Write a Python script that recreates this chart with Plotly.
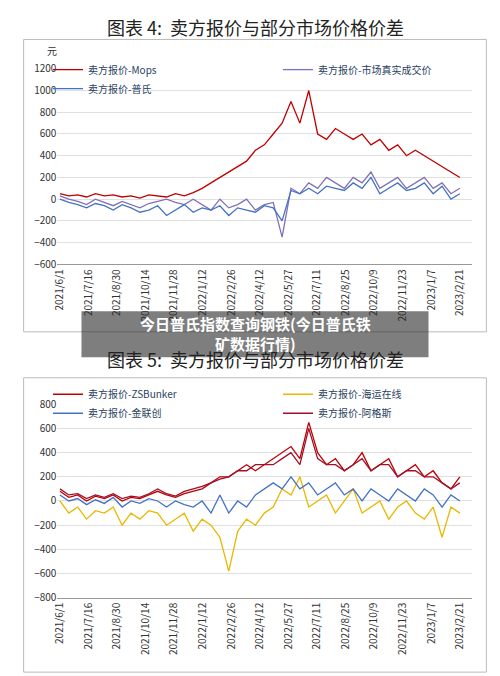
import pandas as pd
import plotly.graph_objects as go

dates = pd.date_range("2021-06-01", periods=46, freq="14D")
mops = [50,30,40,20,50,30,40,20,30,10,40,30,20,50,30,60,100,150,200,250,300,350,450,500,600,700,900,700,1000,600,550,650,600,550,600,500,550,450,500,400,450,400,350,300,250,200]
market = [30,0,-20,-50,0,-30,-60,-20,-50,-80,-40,-20,0,-30,-50,0,-50,-100,0,-80,-50,0,-100,-50,-30,-350,100,50,150,100,200,150,100,200,150,250,100,150,200,100,150,200,100,150,50,100]
platts = [0,-30,-50,-80,-40,-60,-100,-50,-80,-120,-100,-60,-150,-100,-50,-120,-80,-100,-60,-150,-80,-100,-120,-60,-80,-200,80,50,100,50,120,100,80,150,100,200,50,100,150,80,100,150,50,120,0,50]
zsb = [80,30,50,0,40,20,50,0,30,20,50,80,50,30,60,80,100,150,200,200,250,300,250,300,350,400,450,350,650,400,300,350,250,300,400,250,300,350,200,250,300,200,250,150,100,200]
haiyun = [0,-100,-50,-150,-80,-100,-50,-200,-100,-150,-80,-100,-200,-150,-100,-250,-150,-200,-300,-580,-250,-150,-200,-100,-50,100,50,200,-50,0,50,-100,0,100,-100,-50,0,-150,-50,0,-100,-150,-50,-300,-50,-100]
jlc = [50,0,20,-30,10,-20,30,-50,0,-20,20,0,-50,0,-30,-50,0,-100,50,-100,0,-50,50,100,150,100,200,100,150,50,100,150,50,100,0,100,50,0,100,50,0,100,50,-50,50,0]
ags = [100,50,60,20,50,30,60,20,40,30,60,100,60,40,80,100,120,150,180,200,250,250,300,300,300,350,400,300,600,350,300,300,250,300,350,250,300,300,200,250,250,200,200,150,100,150]
tick_labels = ["2021/6/1","2021/7/16","2021/8/30","2021/10/14","2021/11/28","2022/1/12","2022/2/26","2022/4/12","2022/5/27","2022/7/11","2022/8/25","2022/10/9","2022/11/23","2023/1/7","2023/2/21"]
tick_vals = [pd.Timestamp(t) for t in [
    "2021-06-01","2021-07-16","2021-08-30","2021-10-14","2021-11-28","2022-01-12","2022-02-26","2022-04-12","2022-05-27","2022-07-11","2022-08-25","2022-10-09","2022-11-23","2023-01-07","2023-02-21"]]

F = "Noto Sans CJK SC"
H = 676
def py(pix):
    return 1 - pix / H

fig = go.Figure()
def add(y, name, color, ax, lg):
    fig.add_trace(go.Scatter(x=dates, y=y, name=name, mode="lines", line=dict(color=color, width=1.3),
                             xaxis="x"+ax, yaxis="y"+ax, legend=lg))
add(mops, "卖方报价-Mops", "#c00000", "", "legend")
add(market, "卖方报价-市场真实成交价", "#8070b8", "", "legend")
add(platts, "卖方报价-普氏", "#4472c4", "", "legend")
add(zsb, "卖方报价-ZSBunker", "#c00000", "2", "legend2")
add(haiyun, "卖方报价-海运在线", "#e8b800", "2", "legend2")
add(jlc, "卖方报价-金联创", "#4472c4", "2", "legend2")
add(ags, "卖方报价-阿格斯", "#a0102a", "2", "legend2")

xr = [pd.Timestamp("2021-05-28"), pd.Timestamp("2023-03-12")]
xcommon = dict(tickvals=tick_vals, ticktext=tick_labels, tickangle=-90, range=xr, showgrid=False,
               showline=True, linecolor="#999", tickfont=dict(size=10, family=F, color="#333"), ticks="")
ycommon = dict(showgrid=True, gridcolor="#e0e0e0", zeroline=False, tickfont=dict(size=10, family=F, color="#333"), dtick=200)
fig.update_layout(
    width=500, height=H, margin=dict(l=0, r=0, t=0, b=0),
    paper_bgcolor="white", plot_bgcolor="white", font=dict(family=F),
    xaxis=dict(domain=[0.09, 0.95], anchor="y", **xcommon),
    yaxis=dict(domain=[py(254), py(54)], range=[-600, 1200], anchor="x", **ycommon),
    xaxis2=dict(domain=[0.09, 0.95], anchor="y2", **xcommon),
    yaxis2=dict(domain=[py(595), py(397)], range=[-800, 800], anchor="x2", **ycommon),
    legend=dict(orientation="h", x=0.12, y=py(40), xanchor="left", yanchor="top", entrywidth=185,
                font=dict(size=10, family=F), bgcolor="rgba(0,0,0,0)"),
    legend2=dict(orientation="h", x=0.12, y=py(372), xanchor="left", yanchor="top", entrywidth=185,
                 font=dict(size=10, family=F), bgcolor="rgba(0,0,0,0)"),
    shapes=[
        dict(type="rect", xref="paper", yref="paper", x0=0.02, x1=0.98, y0=py(323), y1=py(24), line=dict(color="#bbb", width=1)),
        dict(type="rect", xref="paper", yref="paper", x0=0.02, x1=0.98, y0=py(671), y1=py(370), line=dict(color="#bbb", width=1)),
        dict(type="rect", xref="paper", yref="paper", x0=0.14, x1=0.86, y0=py(349), y1=py(302), fillcolor="rgba(40,40,40,0.6)", line=dict(width=0)),
    ],
    annotations=[
        dict(text="图表 4:  卖方报价与部分市场价格价差", x=0.5, y=1, yanchor="top", yshift=4, xref="paper", yref="paper", showarrow=False, font=dict(size=18, family=F, color="#222")),
        dict(text="图表 5:  卖方报价与部分市场价格价差", x=0.5, y=py(351), yanchor="middle", xref="paper", yref="paper", showarrow=False, font=dict(size=18, family=F, color="#222")),
        dict(text="元", x=0.065, y=py(26), xref="paper", yref="paper", showarrow=False, font=dict(size=10, family=F, color="#333")),
        dict(text="<b>今日普氏指数查询钢铁(今日普氏铁<br>矿数据行情)</b>", x=0.5, y=py(325), xref="paper", yref="paper", showarrow=False, font=dict(size=15, family=F, color="white")),
    ],
)
fig.write_html("out.html")
